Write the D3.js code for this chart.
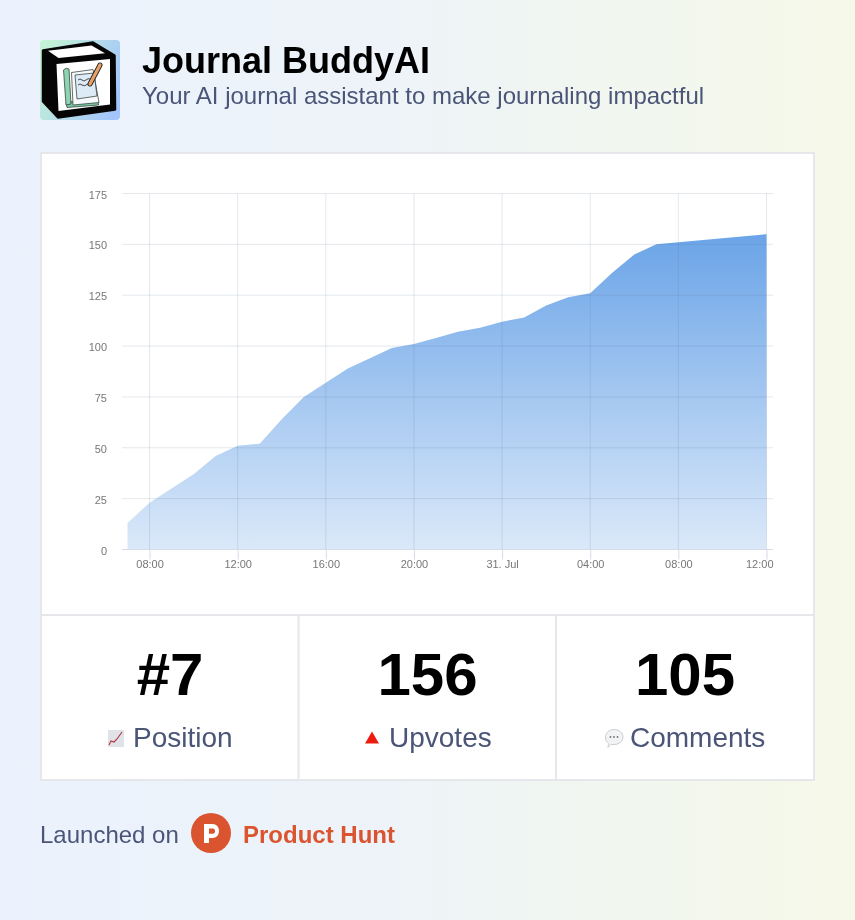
<!DOCTYPE html>
<html><head><meta charset="utf-8">
<script src="https://cdn.jsdelivr.net/npm/d3@7"></script>
<style>
html,body{margin:0;padding:0;width:855px;height:920px;overflow:hidden;background:linear-gradient(90deg,#ebf2fd 0%,#edf3f8 45%,#f1f6f0 70%,#f6f9e9 100%);}
svg{display:block;font-family:"Liberation Sans",Arial,sans-serif;will-change:transform;}
</style></head><body>
<svg id="page" width="855" height="920"></svg>
<script>
const title = "Journal BuddyAI";
const subtitle = "Your AI journal assistant to make journaling impactful";
const upvoteHours = [
"2024-07-30T07:00","2024-07-30T08:00","2024-07-30T09:00","2024-07-30T10:00","2024-07-30T11:00","2024-07-30T12:00",
"2024-07-30T13:00","2024-07-30T14:00","2024-07-30T15:00","2024-07-30T16:00","2024-07-30T17:00","2024-07-30T18:00",
"2024-07-30T19:00","2024-07-30T20:00","2024-07-30T21:00","2024-07-30T22:00","2024-07-30T23:00","2024-07-31T00:00",
"2024-07-31T01:00","2024-07-31T02:00","2024-07-31T03:00","2024-07-31T04:00","2024-07-31T05:00","2024-07-31T06:00",
"2024-07-31T07:00","2024-07-31T08:00","2024-07-31T09:00","2024-07-31T10:00","2024-07-31T11:00","2024-07-31T12:00"];
const upvotes = [13,23,30,37,46,51,52,64,75,82,89,94,99,101,104,107,109,112,114,120,124,126,136,145,150,151,152,153,154,155];
const yTicks = [0,25,50,75,100,125,150,175];
const xTickTimes = ["2024-07-30T08:00","2024-07-30T12:00","2024-07-30T16:00","2024-07-30T20:00","2024-07-31T00:00","2024-07-31T04:00","2024-07-31T08:00","2024-07-31T12:00"];
const xTickLabels = ["08:00","12:00","16:00","20:00","31. Jul","04:00","08:00","12:00"];
const statValues = ["#7","156","105"];
const statLabels = ["Position","Upvotes","Comments"];

const svg = d3.select("#page");
const defs = svg.append("defs");

// header
const grad = defs.append("linearGradient").attr("id","iconBg").attr("x1",0).attr("y1",0.3).attr("x2",1).attr("y2",0.7);
grad.append("stop").attr("offset","0%").attr("stop-color","#c4f2d6");
grad.append("stop").attr("offset","100%").attr("stop-color","#a3c5fb");
const icon = svg.append("g");
icon.append("rect").attr("x",40).attr("y",40).attr("width",80).attr("height",80).attr("rx",4).attr("fill","url(#iconBg)");
icon.append("path").attr("d","M43 50.5L93 42.5L114.5 55.5L115 109.5L58 117.5L43 101.5Z")
  .attr("fill","#050505").attr("stroke","#050505").attr("stroke-width",2.5).attr("stroke-linejoin","round");
const iconShapes = [
 ["M48 50.7L91.5 45.5L105 53.3L58.5 58Z","#fff"],
 ["M56.5 64L110 59L110 104.5L58.5 111Z","#fff"],
 ["M66 102L98 100.5L98.5 105L67 107.5Z","#79c9a5"],
 ["M63.5 70Q66 67 69 69L71 104L66 105Z","#8ed3b2"],
 ["M71.5 72.5L93 69.5L99 102.5L73 105Z","#f7fafb"],
 ["M75 75L94 73L97 96L77 99Z","#dcebf5"]
];
iconShapes.forEach(([d,f])=>icon.append("path").attr("d",d).attr("fill",f)
  .attr("stroke",f==="#fff"?"none":"#26302c").attr("stroke-width",f==="#fff"?0:0.7));
icon.append("path").attr("d","M78 80Q80 78 82 80T86 80T90 79M78 85Q80 83 82 85T88 84").attr("fill","none").attr("stroke","#222").attr("stroke-width",.8);
icon.append("path").attr("d","M100 65L90 84").attr("stroke","#222").attr("stroke-width",5).attr("stroke-linecap","round");
icon.append("path").attr("d","M100 65L90 84").attr("stroke","#e9a268").attr("stroke-width",3.2).attr("stroke-linecap","round");

svg.append("text").attr("x",142).attr("y",72.5).attr("font-size",36).attr("font-weight",700).attr("fill","#000").text(title);
svg.append("text").attr("x",142).attr("y",104).attr("font-size",24).attr("fill","#4a5578").text(subtitle);

// card
svg.append("rect").attr("x",41).attr("y",153).attr("width",773).attr("height",627).attr("fill","#fff").attr("stroke","#e5e7eb").attr("stroke-width",2);
[[41,814,615,615],[298.5,298.5,615,780],[556,556,615,780]].forEach(([a,b,c,d])=>
  svg.append("line").attr("x1",a).attr("x2",b).attr("y1",c).attr("y2",d).attr("stroke","#e5e7eb").attr("stroke-width",2));

// chart
const parse = d3.timeParse("%Y-%m-%dT%H:%M");
const xs = upvoteHours.map(parse);
const x = d3.scaleTime().domain([xs[0],xs[xs.length-1]]).range([127.5,766.5]);
const y = d3.scaleLinear().domain([0,175]).range([549.5,193.5]);
const plotL=122, plotR=773;
const gridColor = "rgba(90,110,145,0.16)";

const ag = defs.append("linearGradient").attr("id","areaFill").attr("gradientUnits","userSpaceOnUse")
  .attr("x1",0).attr("x2",0).attr("y1",y(155)).attr("y2",y(0));
ag.append("stop").attr("offset","0%").attr("stop-color","#4a90e2").attr("stop-opacity",.82);
ag.append("stop").attr("offset","100%").attr("stop-color","#4a90e2").attr("stop-opacity",.2);

const area = d3.area().x((d,i)=>x(xs[i])).y0(y(0)).y1(d=>y(d));
svg.append("path").datum(upvotes).attr("d",area).attr("fill","url(#areaFill)");

const yAxis = d3.axisLeft(y).tickValues(yTicks).tickSize(0).tickPadding(15);
const gy = svg.append("g").attr("transform",`translate(${plotL},0)`).call(yAxis);
gy.select(".domain").remove();
gy.selectAll("text").attr("font-family","inherit").attr("font-size",11).attr("fill","#777").attr("dy","0.42em");
svg.append("g").selectAll("line").data(yTicks).join("line")
  .attr("x1",plotL).attr("x2",plotR).attr("y1",d=>y(d)).attr("y2",d=>y(d))
  .attr("stroke",d=>d===0?"#d5dbe8":gridColor).attr("stroke-width",1);

const xt = xTickTimes.map(parse);
svg.append("g").selectAll("line").data(xt).join("line")
  .attr("x1",d=>x(d)).attr("x2",d=>x(d)).attr("y1",193.5).attr("y2",549.5)
  .attr("stroke",gridColor).attr("stroke-width",1);

const xAxis = d3.axisBottom(x).tickValues(xt).tickFormat((d,i)=>xTickLabels[i]).tickSize(10).tickPadding(0);
const gx = svg.append("g").attr("transform","translate(0,549.5)").call(xAxis);
gx.select(".domain").remove();
gx.selectAll("line").attr("stroke","#d5dbe8");
gx.selectAll("text").attr("font-family","inherit").attr("font-size",11).attr("fill","#777").attr("y",18).attr("dy",0);
gx.selectAll(".tick").filter((d,i)=>i===xt.length-1).select("text").attr("text-anchor","end").attr("x",6.5);

// stats
const colCx = [170,427.5,685];
const labelX = [133,389,630];
statValues.forEach((v,i)=>{
  svg.append("text").attr("x",colCx[i]).attr("y",695).attr("text-anchor","middle").attr("font-size",60).attr("font-weight",700).attr("fill","#000").text(v);
  svg.append("text").attr("x",labelX[i]).attr("y",746.5).attr("font-size",28).attr("fill","#4a5578").text(statLabels[i]);
});
// chart emoji
const e1 = svg.append("g").attr("transform","translate(108,730)");
e1.append("rect").attr("width",16).attr("height",17).attr("fill","#dfe3e8");
e1.append("path").attr("d","M1 15L3 11L6 12L9 9L14 2").attr("fill","none").attr("stroke","#b5333f").attr("stroke-width",1.1);
// triangle emoji
svg.append("path").attr("d","M372 731.5L379 743.5L365 743.5Z").attr("fill","#ee1c0e");
// speech balloon emoji
const e3 = svg.append("g");
e3.append("path").attr("d","M614 729.5C619.5 729.5 623 733 623 737C623 741.5 619 744.5 614 744.5L611 744.5L608 747.5L608.5 743.5C606.5 742 605.5 740 605.5 737C605.5 733 609 729.5 614 729.5Z")
  .attr("fill","#f1f3f4").attr("stroke","#c4c9cc").attr("stroke-width",.9);
[610.5,614,617.5].forEach(cx=>e3.append("circle").attr("cx",cx).attr("cy",737).attr("r",.9).attr("fill","#6d7478"));

// footer
svg.append("text").attr("x",40).attr("y",843).attr("font-size",24).attr("fill","#4a5578").text("Launched on");
svg.append("circle").attr("cx",211).attr("cy",833).attr("r",20).attr("fill","#da552f");
svg.append("path").attr("fill-rule","evenodd").attr("fill","#fff")
  .attr("d","M204 824H212.5C216.5 824 219 827 219 831C219 835 216.5 838 212.5 838H209V843H204ZM209 828.5V833.8H212.8C214.5 833.8 215 832.5 215 831.2C215 829.8 214.5 828.5 212.8 828.5Z");
svg.append("text").attr("x",243).attr("y",843).attr("font-size",24).attr("font-weight",700).attr("fill","#da552f").text("Product Hunt");
</script>
</body></html>
